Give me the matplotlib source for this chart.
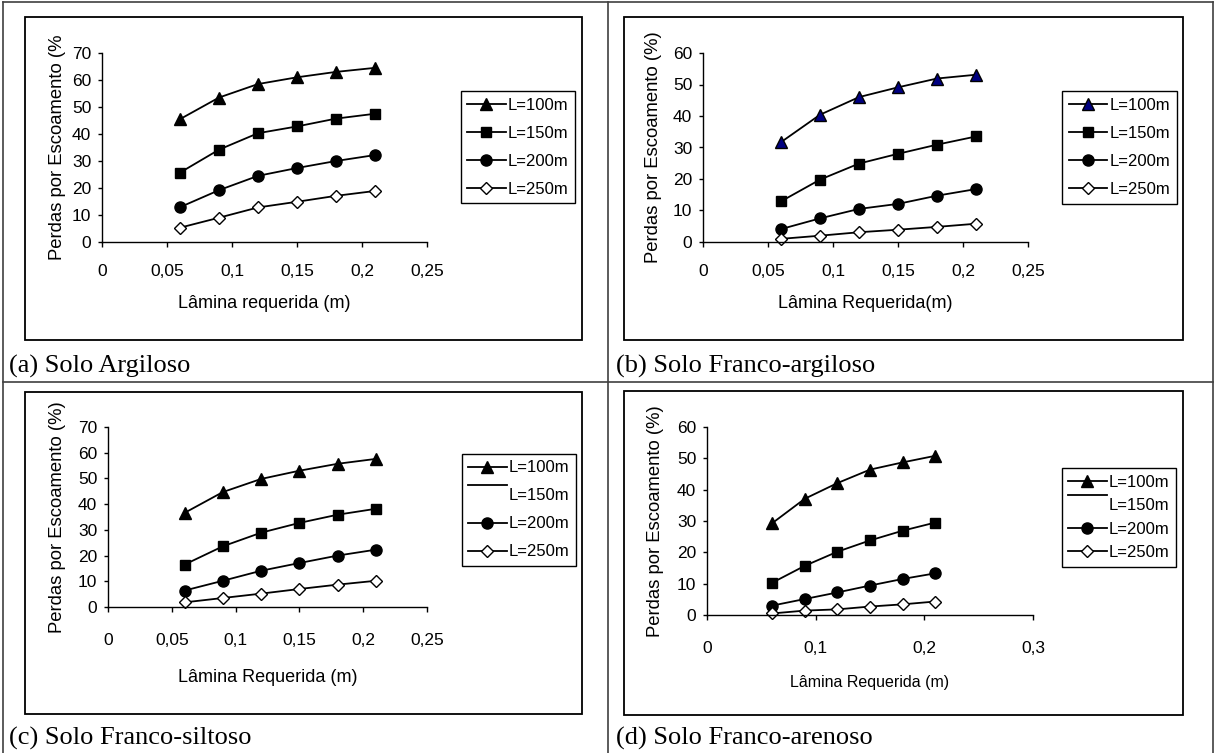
"""
Perdas por escoamento vs lamina requerida, quatro solos
"""

import numpy as np
import matplotlib
matplotlib.use('Agg')
import matplotlib.pyplot as plt
from matplotlib.lines import Line2D
from matplotlib.patches import Rectangle
from matplotlib.legend_handler import HandlerLine2D

W, H = 1216, 753

# Data
lamina = [0.06, 0.09, 0.12, 0.15, 0.18, 0.21]
comprimentos = ['L=100m', 'L=150m', 'L=200m', 'L=250m']

argiloso_100 = [45.5, 53.5, 58.5, 61.0, 63.0, 64.5]
argiloso_150 = [25.7, 34.2, 40.3, 42.8, 45.7, 47.5]
argiloso_200 = [12.9, 19.2, 24.5, 27.4, 30.0, 32.2]
argiloso_250 = [5.3, 9.0, 12.8, 14.9, 17.1, 18.9]

franco_argiloso_100 = [31.7, 40.4, 46.0, 49.1, 51.9, 53.1]
franco_argiloso_150 = [12.9, 19.8, 24.9, 28.0, 30.9, 33.5]
franco_argiloso_200 = [4.1, 7.5, 10.5, 12.1, 14.7, 16.8]
franco_argiloso_250 = [1.0, 2.0, 3.1, 3.9, 4.8, 5.8]

franco_siltoso_100 = [36.6, 44.7, 49.8, 53.0, 55.7, 57.6]
franco_siltoso_150 = [16.5, 23.6, 28.9, 32.7, 35.9, 38.2]
franco_siltoso_200 = [6.4, 10.2, 14.1, 17.1, 20.0, 22.3]
franco_siltoso_250 = [1.8, 3.5, 5.2, 7.0, 8.7, 10.2]

franco_arenoso_100 = [29.3, 37.1, 42.1, 46.4, 48.7, 50.8]
franco_arenoso_150 = [10.3, 15.7, 20.2, 23.8, 26.9, 29.5]
franco_arenoso_200 = [3.0, 5.1, 7.2, 9.4, 11.5, 13.3]
franco_arenoso_250 = [0.5, 1.4, 1.8, 2.7, 3.4, 4.3]

xticks_005 = [0, 0.05, 0.1, 0.15, 0.2, 0.25]
xticklabels_005 = ['0', '0,05', '0,1', '0,15', '0,2', '0,25']
xticks_01 = [0, 0.1, 0.2, 0.3]
xticklabels_01 = ['0', '0,1', '0,2', '0,3']

SANS = 'Liberation Sans'
SERIF = 'Liberation Serif'


class RaisedLineHandler(HandlerLine2D):
    """
    Legend line drawn above its label (as in the original Excel legend)
    """
    def create_artists(self, legend, orig_handle, xdescent, ydescent,
                       width, height, fontsize, trans):
        artists = super().create_artists(legend, orig_handle, xdescent,
                                         ydescent, width, height, fontsize,
                                         trans)
        for artist in artists:
            artist.set_ydata(np.asarray(artist.get_ydata()) + 0.8 * height)
        return artists


def fx(px):
    return px / W


def fy(py):
    return 1 - py / H


def pixel_rect(x0, y0, x1, y1):
    """
    Converts a pixel box (top-left origin) into figure coords
    """
    return [fx(x0), fy(y1), (x1 - x0) / W, (y1 - y0) / H]


def plot_panel(fig, axes_px, box_px, legend_px, series, ymax, xticks,
               xticklabels, xlabel, ylabel, caption, caption_px,
               ylabel_x, xlabel_off=61, xpad=12.4, tri_color='black',
               legend_150_plain=False, xlabel_size=13, spacing=0.78):
    """
    Draws one panel: frame, axes, curves, legend and caption
    """
    # Chart frame
    fig.add_artist(Rectangle((fx(box_px[0]), fy(box_px[3])),
                             (box_px[2] - box_px[0]) / W,
                             (box_px[3] - box_px[1]) / H,
                             transform=fig.transFigure, fill=False,
                             edgecolor='black', linewidth=1.3))

    ax = fig.add_axes(pixel_rect(*axes_px))
    styles = [
        dict(marker='^', markersize=8, markerfacecolor=tri_color),
        dict(marker='s', markersize=7, markerfacecolor='black'),
        dict(marker='o', markersize=8, markerfacecolor='black'),
        dict(marker='D', markersize=6, markerfacecolor='white'),
    ]
    lines = []
    for values, style in zip(series, styles):
        line, = ax.plot(lamina, values, color='black', linewidth=1.3,
                        markeredgecolor='black', markeredgewidth=1.0,
                        clip_on=False, **style)
        lines.append(line)

    ax.set_xlim(xticks[0], xticks[-1])
    ax.set_ylim(0, ymax)
    ax.set_xticks(xticks)
    ax.set_xticklabels(xticklabels)
    ax.set_yticks(range(0, ymax + 1, 10))
    ax.spines['top'].set_visible(False)
    ax.spines['right'].set_visible(False)
    for side in ['left', 'bottom']:
        ax.spines[side].set_linewidth(1.0)
    ax.tick_params(axis='x', direction='out', length=3.6, width=1.0,
                   pad=xpad, labelsize=12.5)
    ax.tick_params(axis='y', direction='out', length=3.2, width=1.0,
                   pad=4.5, labelsize=12.5)
    for label in ax.get_xticklabels() + ax.get_yticklabels():
        label.set_fontfamily(SANS)
    ax.set_facecolor('none')

    # Axis titles
    cx = (axes_px[0] + axes_px[2]) / 2
    cy = (axes_px[1] + axes_px[3]) / 2
    fig.text(fx(cx), fy(axes_px[3] + xlabel_off), xlabel, ha='center',
             va='center', fontsize=xlabel_size, family=SANS)
    fig.text(fx(ylabel_x), fy(cy), ylabel, ha='center', va='center',
             rotation=90, fontsize=13.3, family=SANS)

    # Legend
    handles = list(lines)
    handler_map = {}
    if legend_150_plain:
        handles[1] = Line2D([], [], color='black', linewidth=1.3)
        handler_map = {handles[1]: RaisedLineHandler()}
    lx = (legend_px[0] + legend_px[2]) / 2
    ly = (legend_px[1] + legend_px[3]) / 2
    leg = ax.legend(handles, comprimentos, loc='center',
                    bbox_to_anchor=(fx(lx), fy(ly)),
                    bbox_transform=fig.transFigure, handler_map=handler_map,
                    prop={'family': SANS, 'size': 12},
                    fancybox=False, framealpha=1, edgecolor='black',
                    handlelength=2.3, handletextpad=0.15,
                    labelspacing=spacing, borderpad=0.4, borderaxespad=0)
    leg.get_frame().set_linewidth(1.0)

    # Caption below the chart
    fig.text(fx(caption_px[0]), fy(caption_px[1]), caption, ha='left',
             va='center', fontsize=19, family=SERIF)
    return ax


def draw_table(fig):
    """
    Thin grey lines of the table that holds the four charts
    """
    kw = dict(transform=fig.transFigure, color='#404040', linewidth=1.2)
    fig.add_artist(Line2D([fx(3), fx(1213)], [fy(2), fy(2)], **kw))
    fig.add_artist(Line2D([fx(3), fx(1213)], [fy(382), fy(382)], **kw))
    fig.add_artist(Line2D([fx(3), fx(3)], [fy(2), fy(753)], **kw))
    fig.add_artist(Line2D([fx(608), fx(608)], [fy(2), fy(753)], **kw))
    fig.add_artist(Line2D([fx(1213), fx(1213)], [fy(2), fy(753)], **kw))


if __name__ == '__main__':
    fig = plt.figure(figsize=(W / 100, H / 100), dpi=100)
    draw_table(fig)

    plot_panel(fig, (102, 53, 427, 242), (25, 17, 582, 340),
               (462, 88, 574, 206),
               [argiloso_100, argiloso_150, argiloso_200, argiloso_250],
               70, xticks_005, xticklabels_005, 'Lâmina requerida (m)',
               'Perdas por Escoamento (%', '(a) Solo Argiloso', (9, 366),
               ylabel_x=58)

    plot_panel(fig, (703, 53, 1028, 242), (624, 17, 1183, 340),
               (1063, 89, 1176, 206),
               [franco_argiloso_100, franco_argiloso_150,
                franco_argiloso_200, franco_argiloso_250],
               60, xticks_005, xticklabels_005, 'Lâmina Requerida(m)',
               'Perdas por Escoamento (%)', '(b) Solo Franco-argiloso',
               (616, 366), ylabel_x=653, tri_color='#000080')

    plot_panel(fig, (108, 427, 427, 607), (25, 392, 582, 714),
               (462, 450, 576, 570),
               [franco_siltoso_100, franco_siltoso_150,
                franco_siltoso_200, franco_siltoso_250],
               70, xticks_005, xticklabels_005, 'Lâmina Requerida (m)',
               'Perdas por Escoamento (%)', '(c) Solo Franco-siltoso',
               (9, 738), ylabel_x=58, xlabel_off=70, xpad=15.2,
               legend_150_plain=True)

    plot_panel(fig, (707, 427, 1033, 615), (624, 391, 1183, 715),
               (1063, 465, 1175, 570),
               [franco_arenoso_100, franco_arenoso_150,
                franco_arenoso_200, franco_arenoso_250],
               60, xticks_01, xticklabels_01, 'Lâmina Requerida (m)',
               'Perdas por Escoamento (%)', '(d) Solo Franco-arenoso',
               (616, 738), ylabel_x=655, xlabel_off=68, xpad=15.2,
               legend_150_plain=True, xlabel_size=11.5, spacing=0.5)

    plt.savefig('out.png', dpi=100)
